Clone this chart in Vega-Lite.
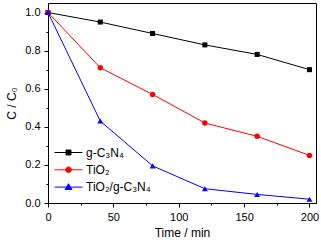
{
  "$schema": "https://vega.github.io/schema/vega-lite/v6.json",
  "width": 268,
  "height": 200,
  "autosize": "none",
  "padding": {"left": 48, "top": 3, "right": 5, "bottom": 40},
  "background": "white",
  "config": {
    "font": "Liberation Sans",
    "view": {"stroke": "black", "strokeWidth": 1},
    "axis": {
      "domainColor": "black",
      "tickColor": "black",
      "labelColor": "black",
      "titleColor": "black",
      "labelFontSize": 11,
      "titleFontSize": 12,
      "titleFontWeight": "normal",
      "grid": false,
      "labelOverlap": false,
      "labelFlush": false
    }
  },
  "data": {
    "values": [
      {"series": "g-C₃N₄", "t": 0, "c": 1.0},
      {"series": "g-C₃N₄", "t": 40, "c": 0.95},
      {"series": "g-C₃N₄", "t": 80, "c": 0.89},
      {"series": "g-C₃N₄", "t": 120, "c": 0.83},
      {"series": "g-C₃N₄", "t": 160, "c": 0.78},
      {"series": "g-C₃N₄", "t": 200, "c": 0.70},
      {"series": "TiO₂", "t": 0, "c": 1.0},
      {"series": "TiO₂", "t": 40, "c": 0.71},
      {"series": "TiO₂", "t": 80, "c": 0.57},
      {"series": "TiO₂", "t": 120, "c": 0.42},
      {"series": "TiO₂", "t": 160, "c": 0.35},
      {"series": "TiO₂", "t": 200, "c": 0.25},
      {"series": "TiO₂/g-C₃N₄", "t": 0, "c": 1.0},
      {"series": "TiO₂/g-C₃N₄", "t": 40, "c": 0.43},
      {"series": "TiO₂/g-C₃N₄", "t": 80, "c": 0.195},
      {"series": "TiO₂/g-C₃N₄", "t": 120, "c": 0.075},
      {"series": "TiO₂/g-C₃N₄", "t": 160, "c": 0.045},
      {"series": "TiO₂/g-C₃N₄", "t": 200, "c": 0.02}
    ]
  },
  "encoding": {
    "x": {
      "field": "t",
      "type": "quantitative",
      "scale": {"domain": [0, 205], "nice": false, "zero": false},
      "axis": {
        "title": "Time / min",
        "values": [0, 25, 50, 75, 100, 125, 150, 175, 200],
        "labelExpr": "datum.value % 50 == 0 ? datum.label : ''",
        "tickSize": {"condition": {"test": "datum.value % 50 == 0", "value": 4}, "value": 2},
        "labelPadding": 4,
        "titlePadding": 5
      }
    },
    "y": {
      "field": "c",
      "type": "quantitative",
      "scale": {"domain": [0, 1.05], "nice": false},
      "axis": {
        "title": "C / C₀",
        "values": [0, 0.1, 0.2, 0.3, 0.4, 0.5, 0.6, 0.7, 0.8, 0.9, 1.0],
        "labelExpr": "round(datum.value * 10) % 2 == 0 ? format(datum.value, '.1f') : ''",
        "tickSize": {"condition": {"test": "round(datum.value * 10) % 2 == 0", "value": 4}, "value": 2},
        "labelPadding": 4,
        "titlePadding": 6
      }
    },
    "color": {
      "field": "series",
      "type": "nominal",
      "scale": {
        "domain": ["g-C₃N₄", "TiO₂", "TiO₂/g-C₃N₄"],
        "range": ["#000000", "#ff0000", "#0000ff"]
      },
      "legend": {
        "orient": "none",
        "legendX": 12,
        "legendY": 141,
        "title": null,
        "padding": 0,
        "symbolSize": 256,
        "labelOffset": 9,
        "rowPadding": 2.3,
        "labelFontSize": 12,
        "labelColor": "black",
        "labelFont": "Liberation Sans",
        "encode": {
          "symbols": {
            "update": {
              "shape": {"signal": "datum.value === 'g-C₃N₄' ? 'M-1.75,0H1.75M-0.31,-0.31H0.31V0.31H-0.31Z' : datum.value === 'TiO₂' ? 'M-1.75,0H1.75M-0.35,0A0.35,0.35,0,1,0,0.35,0A0.35,0.35,0,1,0,-0.35,0Z' : 'M-1.75,0H1.75M0,-0.42L0.42,0.3H-0.42Z'"},
              "fill": {"signal": "scale('color', datum.value)"},
              "stroke": {"signal": "scale('color', datum.value)"},
              "strokeWidth": {"value": 1},
              "opacity": {"value": 1}
            }
          }
        }
      }
    }
  },
  "layer": [
    {
      "mark": {"type": "line", "strokeWidth": 1}
    },
    {
      "transform": [{"filter": "datum.series === 'g-C₃N₄'"}],
      "mark": {"type": "point", "filled": true, "opacity": 1, "shape": "square", "size": 25}
    },
    {
      "transform": [{"filter": "datum.series === 'TiO₂'"}],
      "mark": {"type": "point", "filled": true, "opacity": 1, "shape": "circle", "size": 30}
    },
    {
      "transform": [{"filter": "datum.series === 'TiO₂/g-C₃N₄'"}],
      "mark": {"type": "point", "filled": true, "opacity": 1, "shape": "triangle-up", "size": 34}
    }
  ]
}
